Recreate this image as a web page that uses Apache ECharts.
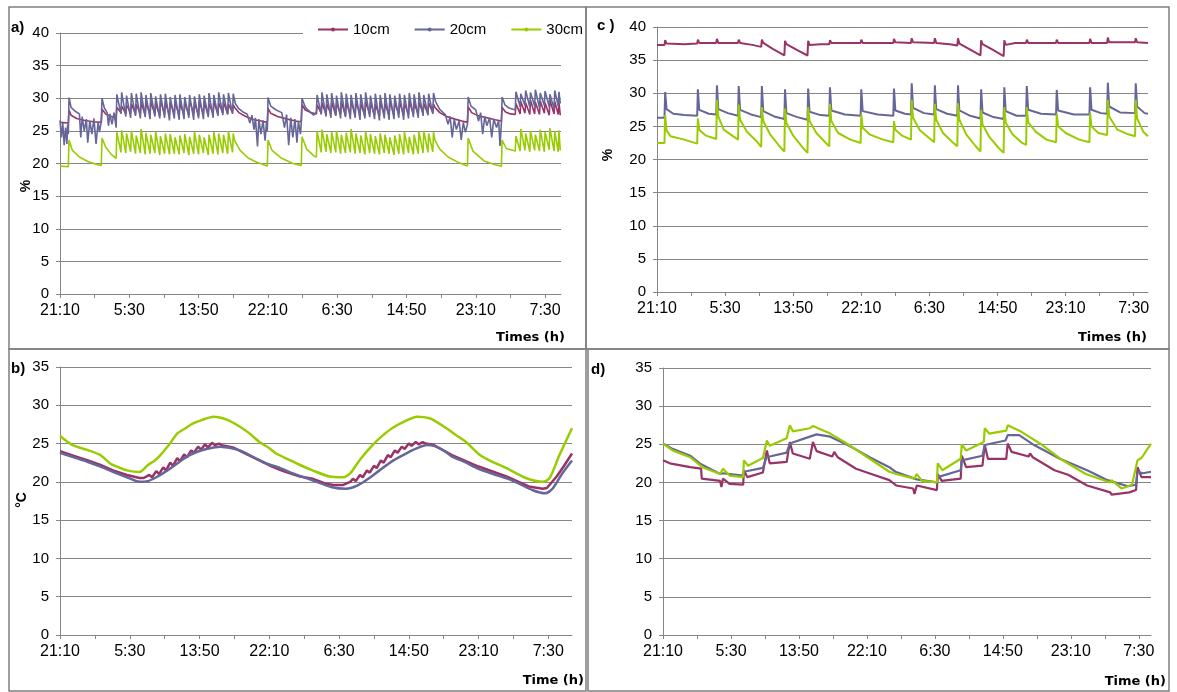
<!DOCTYPE html>
<html>
<head>
<meta charset="utf-8">
<script src="https://cdn.jsdelivr.net/npm/echarts@6/dist/echarts.min.js"></script>
<style>
  html, body { margin: 0; padding: 0; background: #fff; }
  #chart { width: 1177px; height: 692px; }
</style>
</head>
<body>
<div id="chart"></div>
<script>
// time in minutes since 21:10 of day 1
var timeLabels = ['21:10', '5:30', '13:50', '22:10', '6:30', '14:50', '23:10', '7:30'];
var seriesNames = ['10cm', '20cm', '30cm'];
var seriesColors = ['#993366', '#666699', '#99cc00'];

// a) soil moisture, %
var moistA10 = [[0,26.3],[60,26.2],[65,28.2],[80,27.4],[120,26.9],[180,26.6],[240,26.4],[298,26.3],[303,28.3],[330,27.6],[370,27.2],[405,27.0],
  [410,28.6],[440,27.8],[445,28.8],[475,27.6],[480,29.0],[510,27.7],[515,29.2],[545,27.5],[550,29.1],[580,27.6],[585,29.4],[615,27.4],[620,29.3],[650,27.6],[655,29.5],[685,27.5],[690,29.2],[720,27.3],[725,29.6],[755,27.5],[760,29.4],[790,27.4],[795,29.3],[825,27.6],[830,29.5],[860,27.3],[865,29.2],[895,27.5],[900,29.4],[930,27.4],[935,29.6],[965,27.6],[970,29.3],[1000,27.3],[1005,29.5],[1035,27.5],[1040,29.4],[1070,27.4],[1075,29.2],[1105,27.6],[1110,29.5],[1140,27.5],[1145,29.3],[1175,27.7],[1180,29.4],[1210,27.6],[1215,29.1],[1245,27.8],[1250,29.0],
  [1260,28.6],[1290,27.8],[1340,27.2],[1400,26.7],[1450,26.5],[1496,26.3],[1501,28.5],[1520,27.7],[1570,27.2],[1640,26.8],[1700,26.5],[1741,26.4],[1746,29.0],[1770,28.2],[1810,27.8],[1850,27.6],
  [1855,29.0],[1885,27.7],[1890,29.3],[1920,27.5],[1925,29.1],[1955,27.6],[1960,29.4],[1990,27.4],[1995,29.2],[2025,27.6],[2030,29.5],[2060,27.3],[2065,29.3],[2095,27.5],[2100,29.6],[2130,27.4],[2135,29.4],[2165,27.6],[2170,29.2],[2200,27.3],[2205,29.5],[2235,27.5],[2240,29.3],[2270,27.4],[2275,29.1],[2305,27.3],[2310,29.4],[2340,27.5],[2345,29.2],[2375,27.3],[2380,29.5],[2410,27.4],[2415,29.3],[2445,27.6],[2450,29.4],[2480,27.4],[2485,29.2],[2515,27.5],[2520,29.5],[2550,27.6],[2555,29.3],[2585,27.5],[2590,29.4],[2620,27.7],[2625,29.2],[2655,27.6],[2660,29.3],[2690,27.8],[2695,29.1],
  [2705,28.6],[2740,27.8],[2790,27.2],[2850,26.8],[2900,26.5],[2940,26.3],[2945,28.7],[2970,27.8],[3020,27.3],[3080,27.0],[3140,26.7],[3185,26.5],[3190,28.6],[3215,27.9],[3250,27.6],[3285,27.5],
  [3290,29.2],[3320,27.6],[3325,29.5],[3355,27.7],[3360,29.3],[3390,27.5],[3395,29.7],[3425,27.6],[3430,29.4],[3460,27.5],[3465,29.6],[3495,27.7],[3500,29.3],[3530,27.4],[3535,29.7],[3565,27.6],[3570,29.5],[3595,27.5],[3600,29.4],[3610,27.4]];

var moistA20 = [[0,26.6],[10,24.0],[20,26.2],[30,22.8],[40,25.5],[50,23.0],[55,26.0],[60,24.5],[65,30.1],[80,28.6],[110,28.0],[140,27.6],[150,24.0],[160,27.2],[175,25.0],[190,26.8],[200,23.2],[215,26.5],[230,24.5],[245,26.9],[260,23.0],[275,26.3],[285,24.8],[298,26.5],[303,30.0],[320,28.5],[340,27.8],[350,25.8],[360,27.6],[375,26.0],[390,27.8],[405,25.5],
  [410,30.6],[440,27.6],[445,30.9],[475,27.2],[480,30.4],[510,27.0],[515,30.8],[545,27.3],[550,30.7],[580,26.9],[585,30.9],[615,27.1],[620,30.5],[650,26.8],[655,30.8],[685,27.2],[690,30.3],[720,26.9],[725,30.6],[755,27.0],[760,30.7],[790,26.6],[795,30.2],[825,26.9],[830,30.5],[860,26.7],[865,30.6],[895,26.8],[900,30.2],[930,27.0],[935,30.5],[965,26.7],[970,30.3],[1000,26.9],[1005,30.6],[1035,26.8],[1040,30.4],[1070,27.1],[1075,30.8],[1105,27.0],[1110,30.5],[1140,27.3],[1145,30.9],[1175,27.4],[1180,30.6],[1210,27.5],[1215,30.8],[1245,27.6],[1250,30.7],
  [1265,29.2],[1290,28.4],[1320,27.9],[1350,27.6],[1370,26.2],[1385,27.4],[1400,25.2],[1410,27.0],[1425,22.6],[1435,26.8],[1450,24.5],[1465,26.6],[1480,23.5],[1490,26.4],[1496,25.0],[1501,30.1],[1520,28.8],[1560,28.2],[1600,27.8],[1620,25.5],[1635,27.5],[1650,22.8],[1665,27.0],[1680,24.0],[1695,26.8],[1710,23.2],[1720,26.5],[1735,24.5],[1741,26.2],[1746,30.0],[1770,28.6],[1800,28.0],[1830,27.4],[1850,27.9],
  [1855,30.5],[1885,27.5],[1890,30.9],[1920,27.2],[1925,30.6],[1955,27.0],[1960,30.8],[1990,27.3],[1995,30.4],[2025,26.9],[2030,30.9],[2060,27.1],[2065,30.7],[2095,26.8],[2100,30.5],[2130,27.0],[2135,30.8],[2165,26.7],[2170,30.6],[2200,26.9],[2205,30.9],[2235,27.1],[2240,30.4],[2270,26.8],[2275,30.7],[2305,26.6],[2310,30.5],[2340,26.9],[2345,30.8],[2375,26.7],[2380,30.6],[2410,26.8],[2415,30.4],[2445,27.0],[2450,30.7],[2480,26.7],[2485,30.5],[2515,26.9],[2520,30.8],[2550,27.1],[2555,30.6],[2585,27.0],[2590,30.9],[2620,27.3],[2625,30.5],[2655,27.4],[2660,30.7],[2690,27.6],[2695,30.8],
  [2710,29.5],[2740,28.3],[2780,27.5],[2800,26.0],[2815,27.2],[2830,24.0],[2845,26.8],[2860,25.2],[2880,26.5],[2895,23.6],[2910,26.3],[2925,24.8],[2940,26.0],[2945,30.2],[2965,28.8],[3000,28.2],[3020,26.5],[3035,27.8],[3050,24.5],[3065,27.2],[3080,25.8],[3100,27.0],[3115,24.0],[3130,26.8],[3150,25.5],[3165,26.6],[3175,22.7],[3185,26.3],[3190,30.2],[3210,29.0],[3240,28.5],[3285,28.2],
  [3290,31.0],[3320,28.7],[3325,30.7],[3355,28.9],[3360,31.2],[3390,28.6],[3395,30.9],[3425,28.8],[3430,31.3],[3460,28.5],[3465,30.8],[3495,28.9],[3500,31.1],[3530,28.7],[3535,30.6],[3565,28.4],[3570,31.2],[3595,28.8],[3600,31.0],[3610,29.2]];

var moistA30 = [[0,19.6],[60,19.5],[65,23.6],[90,22.0],[140,21.0],[200,20.3],[260,19.9],[298,19.7],[303,23.9],[330,22.5],[370,21.4],[405,20.8],
  [410,24.8],[440,21.7],[445,25.1],[475,21.6],[480,24.6],[510,21.8],[515,25.0],[545,21.5],[550,24.3],[580,21.6],[585,25.3],[615,21.4],[620,24.7],[650,21.5],[655,24.4],[685,21.6],[690,24.9],[720,21.3],[725,24.2],[755,21.5],[760,24.6],[790,21.4],[795,24.5],[825,21.5],[830,24.0],[860,21.4],[865,24.3],[895,21.6],[900,24.5],[930,21.3],[935,24.1],[965,21.5],[970,24.8],[1000,21.4],[1005,24.4],[1035,21.6],[1040,24.0],[1070,21.3],[1075,24.4],[1105,21.5],[1110,24.8],[1140,21.4],[1145,24.6],[1175,21.6],[1180,24.4],[1210,21.5],[1215,24.9],[1245,21.7],[1250,24.6],
  [1260,23.5],[1300,22.0],[1360,20.8],[1420,20.2],[1496,19.6],[1501,23.6],[1530,22.0],[1600,20.8],[1680,20.0],[1741,19.7],[1746,24.1],[1780,22.2],[1830,21.2],[1850,21.0],
  [1855,24.9],[1885,21.7],[1890,25.2],[1920,21.8],[1925,24.5],[1955,21.6],[1960,24.8],[1990,21.7],[1995,25.0],[2025,21.5],[2030,24.4],[2060,21.6],[2065,24.7],[2095,21.7],[2100,25.3],[2130,21.5],[2135,24.6],[2165,21.6],[2170,24.3],[2200,21.4],[2205,24.9],[2235,21.6],[2240,24.5],[2270,21.5],[2275,24.2],[2305,21.4],[2310,24.6],[2340,21.6],[2345,24.4],[2375,21.5],[2380,24.0],[2410,21.3],[2415,24.3],[2445,21.5],[2450,24.5],[2480,21.4],[2485,24.8],[2515,21.6],[2520,24.1],[2550,21.4],[2555,24.4],[2585,21.5],[2590,24.9],[2620,21.6],[2625,25.0],[2655,21.7],[2660,24.6],[2690,21.8],[2695,24.8],
  [2705,23.6],[2740,22.2],[2800,21.0],[2880,20.1],[2940,19.6],[2945,23.9],[2980,21.9],[3060,20.4],[3140,19.8],[3185,19.6],[3190,23.6],[3220,22.3],[3285,21.9],
  [3290,24.2],[3320,21.9],[3325,25.3],[3355,22.0],[3360,24.6],[3390,21.8],[3395,25.0],[3425,22.0],[3430,24.4],[3460,21.9],[3465,25.2],[3495,21.8],[3500,24.8],[3530,22.1],[3535,25.4],[3565,21.9],[3570,24.9],[3595,21.8],[3600,25.1],[3610,22.0]];

// c) soil moisture, %
var moistC10 = [[0,37.3],[55,37.3],[60,38.0],[70,37.5],[200,37.4],[295,37.5],[300,38.1],[310,37.6],[435,37.6],[440,38.2],[450,37.6],[595,37.6],[600,38.1],[610,37.6],[700,37.3],[765,37.0],[770,38.1],[780,37.6],[850,36.7],[935,35.7],[940,37.9],[950,37.4],[1030,36.5],[1105,35.7],[1110,37.9],[1120,37.3],[1200,37.4],[1265,37.4],[1270,38.0],[1280,37.6],[1495,37.6],[1500,38.1],[1510,37.6],[1735,37.6],[1740,38.2],[1750,37.7],[1865,37.6],[1870,38.3],[1880,37.7],[2035,37.6],[2040,38.3],[2050,37.6],[2150,37.4],[2205,37.2],[2210,38.3],[2220,37.5],[2300,36.6],[2375,35.7],[2380,38.0],[2390,37.4],[2470,36.5],[2545,35.6],[2550,38.0],[2560,37.3],[2630,37.6],[2710,37.6],[2715,38.1],[2725,37.6],[2930,37.6],[2935,38.1],[2945,37.6],[3175,37.6],[3180,38.2],[3190,37.6],[3305,37.6],[3310,38.4],[3320,37.7],[3510,37.7],[3515,38.3],[3525,37.7],[3605,37.6]];

var moistC20 = [[0,26.3],[55,26.3],[60,30.2],[70,27.6],[120,26.9],[200,26.7],[295,26.6],[300,30.6],[310,27.5],[380,26.9],[435,26.8],[440,31.2],[450,27.6],[520,27.0],[595,26.6],[600,31.1],[610,27.5],[690,26.8],[765,26.4],[770,31.1],[780,27.3],[860,26.5],[935,26.1],[940,30.6],[950,27.0],[1030,26.4],[1105,26.0],[1110,30.7],[1120,27.2],[1200,26.7],[1265,26.6],[1270,30.9],[1280,27.4],[1380,26.8],[1495,26.6],[1500,30.6],[1510,27.3],[1620,26.8],[1735,26.6],[1740,30.7],[1750,27.4],[1820,26.9],[1865,26.8],[1870,31.5],[1880,27.8],[1960,27.0],[2035,26.8],[2040,31.2],[2050,27.6],[2130,26.9],[2205,26.6],[2210,31.2],[2220,27.4],[2300,26.6],[2375,26.2],[2380,30.6],[2390,27.1],[2470,26.4],[2545,26.1],[2550,30.9],[2560,27.3],[2640,26.6],[2710,26.6],[2715,31.1],[2725,27.5],[2820,26.9],[2930,26.8],[2935,30.5],[2945,27.4],[3060,26.8],[3175,26.8],[3180,30.9],[3190,27.5],[3260,27.0],[3305,26.9],[3310,31.6],[3320,28.0],[3400,27.1],[3510,27.0],[3515,31.5],[3525,28.0],[3580,27.0],[3605,26.9]];

var moistC30 = [[0,22.5],[55,22.5],[60,26.7],[70,24.4],[100,23.5],[200,23.0],[295,22.4],[300,26.2],[310,24.5],[360,23.6],[435,23.1],[440,29.0],[450,26.5],[490,24.5],[560,23.5],[595,23.0],[600,28.3],[610,26.0],[660,24.2],[730,22.8],[765,21.9],[770,27.9],[780,25.8],[830,23.8],[900,22.0],[935,21.2],[940,27.7],[950,25.5],[1000,23.6],[1070,21.8],[1105,21.0],[1110,27.9],[1120,25.8],[1170,24.0],[1240,22.5],[1265,22.0],[1270,28.4],[1280,25.8],[1330,24.0],[1420,23.0],[1495,22.5],[1500,26.8],[1510,24.8],[1560,23.8],[1660,23.0],[1735,22.6],[1740,25.8],[1750,24.5],[1800,23.6],[1865,23.0],[1870,29.0],[1880,26.3],[1930,24.4],[2000,23.2],[2035,22.6],[2040,28.4],[2050,26.0],[2100,24.0],[2170,22.6],[2205,22.0],[2210,28.5],[2220,26.0],[2270,23.8],[2340,22.0],[2375,21.2],[2380,27.5],[2390,25.3],[2440,23.4],[2510,21.7],[2545,21.0],[2550,27.9],[2560,25.6],[2610,23.8],[2680,22.5],[2710,22.2],[2715,27.9],[2725,25.6],[2780,24.2],[2860,23.0],[2930,22.6],[2935,26.9],[2945,25.0],[3000,24.0],[3100,23.0],[3175,22.6],[3180,27.0],[3190,25.0],[3240,24.0],[3305,23.7],[3310,29.0],[3320,26.5],[3380,24.5],[3460,23.8],[3510,23.5],[3515,29.0],[3525,26.2],[3570,24.2],[3605,23.5]];

// b) soil temperature, °C
var tempB10 = [[0,24.0],[100,23.4],[200,22.8],[290,22.2],[380,21.5],[480,20.9],[570,20.5],[600,20.5],[640,20.9],[660,20.6],[690,21.4],[710,21.0],[740,21.9],[760,21.5],[790,22.5],[810,22.1],[840,23.1],[860,22.7],[890,23.6],[910,23.2],[940,24.1],[960,23.8],[990,24.6],[1010,24.2],[1040,24.9],[1060,24.5],[1090,25.1],[1110,24.8],[1140,25.0],[1160,24.8],[1240,24.5],[1340,23.6],[1430,22.8],[1520,22.0],[1600,21.4],[1720,20.7],[1810,20.4],[1900,19.8],[1960,19.6],[2030,19.6],[2080,20.0],[2100,20.4],[2120,20.1],[2150,20.9],[2170,20.6],[2200,21.5],[2220,21.2],[2250,22.1],[2270,21.8],[2300,22.8],[2320,22.5],[2350,23.5],[2370,23.2],[2400,24.1],[2420,23.8],[2450,24.6],[2470,24.3],[2500,25.0],[2520,24.7],[2550,25.2],[2570,24.9],[2600,25.2],[2620,25.0],[2680,24.8],[2810,23.5],[3000,22.0],[3200,20.7],[3360,19.4],[3460,19.1],[3490,19.2],[3560,20.7],[3610,22.0],[3670,23.7]];

var tempB20 = [[0,23.8],[100,23.2],[200,22.6],[290,22.0],[380,21.3],[480,20.6],[570,20.0],[630,20.1],[700,20.7],[770,21.5],[840,22.4],[910,23.3],[980,23.9],[1050,24.3],[1150,24.6],[1230,24.4],[1290,24.1],[1390,23.2],[1480,22.4],[1580,21.8],[1670,21.1],[1810,20.2],[1950,19.3],[2050,19.1],[2130,19.5],[2210,20.4],[2290,21.5],[2390,22.8],[2480,23.7],[2560,24.4],[2630,24.8],[2680,24.7],[2750,24.1],[2810,23.3],[2900,22.6],[3000,21.7],[3110,21.0],[3240,20.2],[3390,18.9],[3480,18.5],[3530,19.1],[3600,21.1],[3670,22.8]];

var tempB30 = [[0,26.0],[90,24.8],[190,24.2],[290,23.5],[360,22.4],[420,21.9],[480,21.5],[570,21.3],[630,22.2],[680,22.8],[720,23.5],[780,24.8],[840,26.3],[900,27.0],[950,27.6],[1020,28.1],[1100,28.5],[1200,28.1],[1290,27.2],[1360,26.3],[1430,25.2],[1500,24.4],[1550,23.7],[1640,22.9],[1720,22.2],[1810,21.5],[1930,20.7],[2030,20.6],[2080,21.1],[2150,22.9],[2240,24.8],[2310,26.0],[2380,27.0],[2470,27.9],[2560,28.5],[2650,28.3],[2710,27.7],[2770,27.0],[2840,26.1],[2910,25.2],[3010,23.5],[3100,22.6],[3200,21.8],[3340,20.5],[3460,20.0],[3510,20.5],[3580,23.5],[3670,27.0]];

// d) soil temperature, °C
var tempD10 = [[0,22.9],[50,22.5],[200,22.0],[280,21.8],[285,20.5],[420,20.2],[430,19.4],[441,20.5],[490,19.8],[590,19.7],[595,21.6],[620,20.7],[735,21.3],[764,24.2],[785,22.5],[910,22.7],[933,25.3],[955,23.8],[1080,23.1],[1103,25.3],[1130,24.1],[1245,23.4],[1260,24.0],[1285,23.3],[1420,21.8],[1500,21.3],[1665,20.3],[1715,19.6],[1840,19.2],[1850,18.5],[1867,19.6],[2015,19.0],[2021,21.1],[2050,20.2],[2190,20.5],[2198,23.5],[2230,22.0],[2350,22.2],[2367,24.9],[2390,23.1],[2525,23.1],[2536,25.1],[2565,24.0],[2690,23.4],[2700,23.8],[2720,23.3],[2880,21.6],[2980,21.0],[3120,19.6],[3290,18.7],[3300,18.4],[3430,18.7],[3480,19.0],[3491,22.0],[3520,20.7],[3590,20.7]];

var tempD20 = [[0,25.1],[70,24.4],[200,23.5],[270,22.5],[420,21.1],[441,21.2],[590,20.9],[595,21.4],[735,21.9],[764,23.4],[785,23.4],[910,23.9],[933,25.1],[1080,26.0],[1130,26.3],[1230,26.0],[1370,24.8],[1520,23.3],[1665,22.0],[1710,21.4],[1850,20.5],[1867,20.4],[2015,20.0],[2021,20.7],[2190,21.6],[2198,22.9],[2350,23.5],[2367,24.9],[2520,25.5],[2536,26.2],[2620,26.2],[2730,24.9],[2920,23.1],[3120,21.6],[3270,20.3],[3420,19.5],[3480,19.7],[3491,21.4],[3530,21.2],[3590,21.4]];

var tempD30 = [[0,25.1],[70,24.2],[200,23.3],[290,22.0],[420,21.1],[441,21.8],[490,20.9],[590,20.7],[595,22.9],[625,22.2],[735,23.2],[764,25.5],[785,24.8],[910,25.8],[933,27.5],[955,26.7],[1080,27.1],[1103,27.4],[1230,26.4],[1370,24.9],[1520,23.1],[1665,21.4],[1715,21.1],[1850,20.5],[1867,21.1],[1905,20.2],[2015,20.0],[2021,22.5],[2055,21.6],[2190,23.1],[2198,25.0],[2230,24.2],[2360,25.3],[2367,27.1],[2400,26.4],[2525,26.8],[2536,27.5],[2640,26.6],[2790,24.9],[2940,22.9],[3110,21.1],[3290,20.0],[3300,20.3],[3375,19.2],[3450,19.7],[3491,22.9],[3520,23.2],[3590,25.1]];

var chart = echarts.init(document.getElementById('chart'));
var gridGray = '#868686';
var font = "'Liberation Sans', Arial, sans-serif";

// ticks every 250 min, labels every 500 min
var tickVals = [], labelVals = [];
for (var i = 0; i <= (timeLabels.length - 1) * 2; i++) tickVals.push(i * 250);
timeLabels.forEach(function (l, i) { labelVals.push(i * 500); });

function xAx(g, max) {
  return {
    type: 'value', gridIndex: g, min: 0, max: max, interval: 250,
    axisLine: { lineStyle: { color: gridGray, width: 1 } },
    axisTick: { show: true, length: 4, customValues: tickVals, lineStyle: { color: gridGray } },
    axisLabel: {
      customValues: labelVals, color: '#000', fontSize: 16, fontFamily: font, margin: 9,
      formatter: function (v) { return timeLabels[Math.round(v / 500)]; }
    },
    splitLine: { show: false }
  };
}
function yAx(g, max) {
  return {
    type: 'value', gridIndex: g, min: 0, max: max, interval: 5,
    axisLine: { show: true, lineStyle: { color: gridGray, width: 1 } },
    axisTick: { show: true, length: 4, lineStyle: { color: gridGray } },
    axisLabel: { color: '#000', fontSize: 15, fontFamily: font, margin: 11 },
    splitLine: { lineStyle: { color: gridGray, width: 1 } }
  };
}
function line(k, g, data, w, smooth) {
  return {
    name: seriesNames[k], type: 'line', xAxisIndex: g, yAxisIndex: g,
    data: data, symbol: 'circle', symbolSize: 3, showSymbol: false, smooth: smooth || false,
    lineStyle: { color: seriesColors[k], width: w }, itemStyle: { color: seriesColors[k] },
    emphasis: { disabled: true }
  };
}
function txt(x, y, s, f, extra) {
  var o = { type: 'text', x: x, y: y, style: { text: s, font: f, fill: '#000', align: 'left', verticalAlign: 'middle' } };
  if (extra) { for (var k in extra) o.style[k] = extra[k]; }
  return o;
}
function frame(x, y, w, h) {
  return { type: 'rect', shape: { x: x, y: y, width: w, height: h }, style: { fill: 'none', stroke: '#7f7f7f', lineWidth: 1.5 }, z: 10 };
}

var option = {
  backgroundColor: '#fff',
  animation: false,
  legend: {
    data: seriesNames, left: 303, top: 18, padding: [4, 4, 4, 14],
    backgroundColor: '#fff', itemWidth: 30, itemHeight: 5, itemGap: 24,
    textStyle: { fontSize: 15, fontFamily: font, color: '#000' }, z: 5
  },
  grid: [
    { left: 60, top: 33, width: 501, height: 261 },
    { left: 657, top: 27, width: 491, height: 265 },
    { left: 60, top: 367, width: 512, height: 268 },
    { left: 663, top: 368, width: 488, height: 267 }
  ],
  xAxis: [xAx(0, 3615), xAx(1, 3605), xAx(2, 3670), xAx(3, 3590)],
  yAxis: [yAx(0, 40), yAx(1, 40), yAx(2, 35), yAx(3, 35)],
  series: [
    line(0, 0, moistA10, 1.6), line(1, 0, moistA20, 1.6), line(2, 0, moistA30, 1.6),
    line(0, 1, moistC10, 2), line(1, 1, moistC20, 2), line(2, 1, moistC30, 2),
    line(0, 2, tempB10, 2.5), line(1, 2, tempB20, 2.5, 0.25), line(2, 2, tempB30, 2.5, 0.25),
    line(0, 3, tempD10, 2.2), line(1, 3, tempD20, 2.2), line(2, 3, tempD30, 2.2)
  ],
  graphic: [
    frame(9, 7, 577, 342), frame(586, 7, 583, 342),
    frame(9, 349, 577, 342), frame(588, 349, 581, 342),
    txt(11, 28, 'a)', 'bold 15px ' + font),
    txt(597, 26, 'c )', 'bold 15px ' + font),
    txt(11, 369, 'b)', 'bold 15px ' + font),
    txt(591, 370, 'd)', 'bold 15px ' + font),
    { type: 'text', x: 26, y: 186, rotation: Math.PI / 2, style: { text: '%', font: 'bold 14px ' + font, fill: '#000', align: 'center', verticalAlign: 'middle' } },
    { type: 'text', x: 608, y: 155, rotation: Math.PI / 2, style: { text: '%', font: 'bold 14px ' + font, fill: '#000', align: 'center', verticalAlign: 'middle' } },
    { type: 'text', x: 22, y: 500, rotation: Math.PI / 2, style: { text: '°C', font: 'bold 14px ' + font, fill: '#000', align: 'center', verticalAlign: 'middle' } },
    txt(565, 338, 'Times (h)', 'bold 13px DejaVu Sans', { align: 'right' }),
    txt(1147, 338, 'Times (h)', 'bold 13px DejaVu Sans', { align: 'right' }),
    txt(584, 681, 'Time (h)', 'bold 13px DejaVu Sans', { align: 'right' }),
    txt(1166, 682, 'Time (h)', 'bold 13px DejaVu Sans', { align: 'right' })
  ]
};
chart.setOption(option);
</script>
</body>
</html>
